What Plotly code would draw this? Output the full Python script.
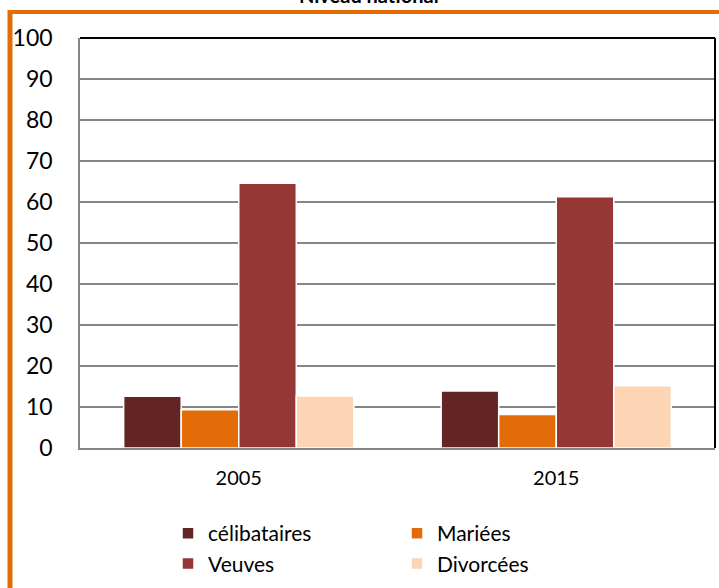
import plotly.graph_objects as go

years = ["2005", "2015"]
series_names = ["célibataires", "Mariées", "Veuves", "Divorcées"]
celibataires = [12.6, 13.9]
mariees = [9.3, 8.2]
veuves = [64.6, 61.3]
divorcees = [12.7, 15.2]
colors = ["#632523", "#E36C09", "#953735", "#FCD5B5"]
title_text = "Niveau national"
y_ticks = [0, 10, 20, 30, 40, 50, 60, 70, 80, 90, 100]

FONT = "Lato, Carlito, Calibri, sans-serif"

fig = go.Figure()
for name, vals, col in zip(series_names, [celibataires, mariees, veuves, divorcees], colors):
    fig.add_trace(go.Bar(
        x=years, y=vals, name=name,
        marker=dict(color=col, line=dict(color="white", width=1.5)),
    ))

W, H = 719, 588
ml, mr, mt, mb = 80, 4, 38, 140
pw = W - ml - mr
ph = H - mt - mb

def px_x(p):
    return (p - ml) / pw

def px_y(p):
    return (H - mb - p) / ph

fig.update_layout(
    width=W, height=H,
    margin=dict(l=ml, r=mr, t=mt, b=mb, autoexpand=False),
    paper_bgcolor="white", plot_bgcolor="white",
    barmode="group", bargap=0.275, bargroupgap=0.0,
    font=dict(family=FONT, color="black"),
    showlegend=True,
    legend=dict(
        orientation="h", x=px_x(168), xanchor="left", y=px_y(513), yanchor="top",
        font=dict(size=21, family=FONT, color="black"),
        entrywidth=184, entrywidthmode="pixels", tracegroupgap=0,
        traceorder="normal", bgcolor="rgba(0,0,0,0)",
    ),
    xaxis=dict(
        showline=True, linecolor="#868686", linewidth=2,
        showgrid=False, ticks="", ticklabelstandoff=11,
        tickfont=dict(size=20, family=FONT, color="black"),
    ),
    yaxis=dict(
        range=[0, 100], tickvals=y_ticks, showline=True, linecolor="#868686", linewidth=1.5,
        showgrid=True, gridcolor="#868686", gridwidth=2,
        zeroline=False, ticks="", ticklabelstandoff=21,
        tickfont=dict(size=23, family=FONT, color="black"),
    ),
    shapes=[
        dict(type="line", xref="paper", yref="paper", x0=0, x1=1, y0=1, y1=1,
             line=dict(color="black", width=2)),
        dict(type="line", xref="paper", yref="paper", x0=1, x1=1, y0=0, y1=1,
             line=dict(color="black", width=2)),
        dict(type="line", xref="paper", yref="paper", x0=px_x(10), x1=px_x(10), y0=px_y(10), y1=px_y(600),
             line=dict(color="#E36C09", width=5)),
        dict(type="line", xref="paper", yref="paper", x0=px_x(8), x1=px_x(730), y0=px_y(12), y1=px_y(12),
             line=dict(color="#E36C09", width=4)),
    ],
    annotations=[
        dict(text="<b>" + title_text + "</b>", xref="paper", yref="paper",
             x=px_x(369), xanchor="center", y=px_y(9), yanchor="bottom",
             showarrow=False, font=dict(size=20, family=FONT, color="black")),
    ],
)

fig.write_html("out.html", config={"displayModeBar": False},
               post_script="document.body.style.margin='0';document.body.style.overflow='hidden';")
